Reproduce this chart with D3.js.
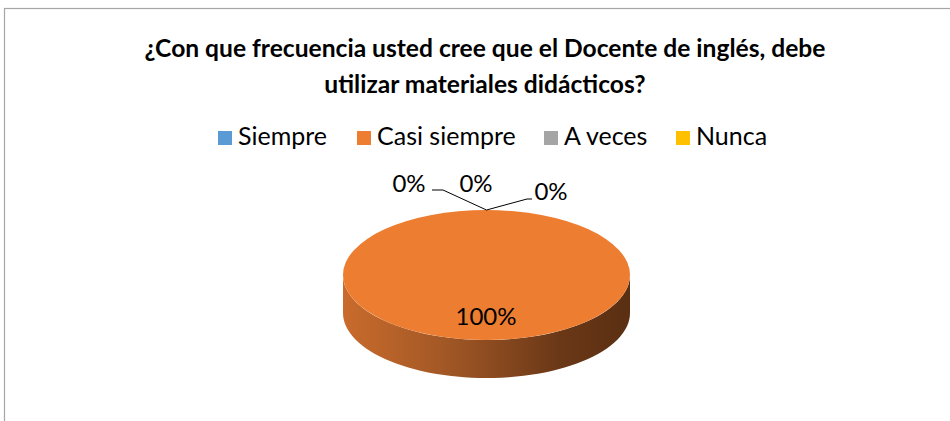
<!DOCTYPE html>
<head>
  <meta charset="utf-8">
  <script src="https://d3js.org/d3.v7.min.js"></script>
  <style>
  body { margin: 0; background: #fff; }
  text { font-family: Lato, "Open Sans", sans-serif; fill: #000; }
  .title { font-weight: bold; font-size: 24.6px; }
  .legend text { font-size: 25px; }
  .lbl { font-size: 24px; }
  </style>
</head>
<body>
<svg width="950" height="421"></svg>

<script type="text/javascript">
// Data
var titleLines = ["¿Con que frecuencia usted cree que el Docente de inglés, debe",
                  "utilizar materiales didácticos?"];
var categories = ["Siempre", "Casi siempre", "A veces", "Nunca"];
var values = [0, 100, 0, 0];
var colors = ["#5B9BD5", "#ED7D31", "#A5A5A5", "#FFC000"];

var svg = d3.select("svg");

// chart border (clipped on right and bottom like the original)
svg.append("rect")
    .attr("x", 4.5).attr("y", 8.5)
    .attr("width", 960).attr("height", 430)
    .attr("fill", "#fff")
    .attr("stroke", "#A6A6A6")
    .attr("stroke-width", 1.2);

// title
svg.selectAll(".title")
  .data(titleLines)
  .enter().append("text")
    .attr("class", "title")
    .attr("x", 485)
    .attr("y", function(d, i) { return 57 + i * 36; })
    .attr("text-anchor", "middle")
    .text(function(d) { return d; });

// legend
var legendX = [218, 357, 544, 676];
var legend = svg.append("g").attr("class", "legend")
  .selectAll("g")
  .data(categories)
  .enter().append("g")
    .attr("transform", function(d, i) { return "translate(" + legendX[i] + ",131)"; });
legend.append("rect")
    .attr("width", 14).attr("height", 14)
    .attr("fill", function(d, i) { return colors[i]; });
legend.append("text")
    .attr("x", 20).attr("y", 14)
    .text(function(d) { return d; });

// 3D pie
var cx = 486.5, cy = 275, rx = 143.5, ry = 65, depth = 38;
var color = d3.scaleOrdinal().domain(categories).range(colors);

var pie = d3.pie().sort(null).value(function(d) { return d.value; });
var slices = pie(categories.map(function(c, i) { return {name: c, value: values[i]}; }));

var defs = svg.append("defs");
var grad = defs.append("linearGradient").attr("id", "side")
    .attr("x1", "0").attr("x2", "1").attr("y1", "0").attr("y2", "0");
grad.append("stop").attr("offset", "0%").attr("stop-color", "#C96B2C");
grad.append("stop").attr("offset", "35%").attr("stop-color", "#A35826");
grad.append("stop").attr("offset", "75%").attr("stop-color", "#6B3817");
grad.append("stop").attr("offset", "100%").attr("stop-color", "#5A2F12");

// point on the ellipse at a pie angle (0 = top, clockwise)
function pt(a, dy) {
  return [cx + rx * Math.sin(a), cy - ry * Math.cos(a) + (dy || 0)];
}

var g = svg.append("g");

// side walls: only the front half (angles PI/2 .. 3PI/2) is visible
slices.forEach(function(s) {
  if (s.endAngle - s.startAngle <= 0) return;
  var a0 = Math.max(s.startAngle, Math.PI / 2);
  var a1 = Math.min(s.endAngle, 3 * Math.PI / 2);
  if (a1 <= a0) return;
  var n = 60, top = [], bot = [];
  for (var k = 0; k <= n; k++) {
    var a = a0 + (a1 - a0) * k / n;
    top.push(pt(a));
    bot.push(pt(a, depth));
  }
  var pts = top.concat(bot.reverse());
  g.append("path")
      .attr("d", d3.line()(pts) + "Z")
      .attr("fill", "url(#side)");
});

// top face: pie arcs on a circle squashed into an ellipse
var arc = d3.arc().innerRadius(0).outerRadius(rx);
g.append("g")
    .attr("transform", "translate(" + cx + "," + cy + ") scale(1," + (ry / rx) + ")")
  .selectAll("path")
  .data(slices)
  .enter().append("path")
    .attr("d", arc)
    .attr("fill", function(d) { return color(d.data.name); });

// labels: Siempre, Casi siempre, A veces, Nunca
var pct = d3.format(".0%");
var total = d3.sum(values);
var labelPos = [[409, 192], [486, 325], [476, 192], [551, 200]];

slices.forEach(function(s, i) {
  var lp = labelPos[i];
  svg.append("text")
      .attr("class", "lbl")
      .attr("x", lp[0]).attr("y", lp[1])
      .attr("text-anchor", "middle")
      .text(pct(s.value / total));
});

// leader lines for the zero slices at the outer sides
var leaders = [[[432, 190], [443, 190]], null, null, [[532, 199], [527, 199]]];
slices.forEach(function(s, i) {
  if (!leaders[i]) return;
  var a = (s.startAngle + s.endAngle) / 2;
  var p = pt(a);
  svg.append("polyline")
      .attr("points", leaders[i].concat([p]).map(function(d) { return d.join(","); }).join(" "))
      .attr("fill", "none")
      .attr("stroke", "#000")
      .attr("stroke-width", 1);
});
</script>
</body>
</html>
